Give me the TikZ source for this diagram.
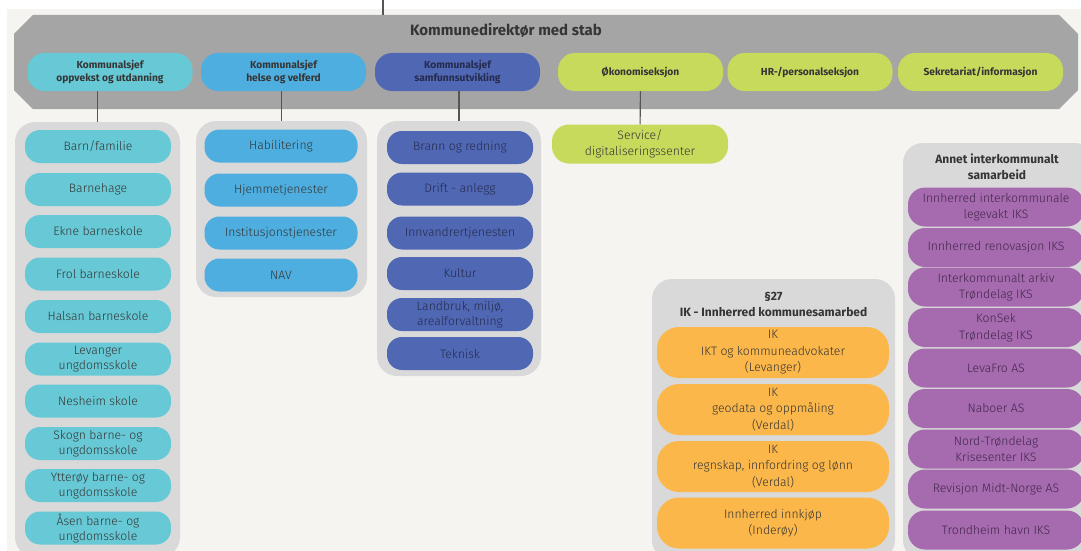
\documentclass[tikz,border=0pt]{standalone}
\usepackage{fontspec}
\setmainfont{Fira Sans}
\newfontfamily\lightfont{Fira Sans Light}
\definecolor{bg}{HTML}{F5F4F0}
\definecolor{bandc}{HTML}{A4A5A4}
\definecolor{cont}{HTML}{D9D9D9}
\definecolor{cyanc}{HTML}{67C9D6}
\definecolor{bluec}{HTML}{4EAEE0}
\definecolor{indc}{HTML}{5067B3}
\definecolor{grnc}{HTML}{C8DA5C}
\definecolor{orgc}{HTML}{FBB74A}
\definecolor{purc}{HTML}{A66AAE}
\definecolor{txt}{HTML}{353535}
\definecolor{indtxt}{HTML}{252B4E}
\definecolor{purtxt}{HTML}{42264D}
\definecolor{lnc}{HTML}{555555}
\begin{document}
\begin{tikzpicture}[x=1pt,y=-1pt,
  every node/.style={inner sep=0pt, align=center, text=txt},
  head/.style={rounded corners=17pt, minimum width=165pt, minimum height=38pt, font=\fontsize{10.2}{12.8}\selectfont\bfseries},
  container/.style={fill=cont, rounded corners=20pt},
  item/.style={rounded corners=15pt, minimum height=33pt, font=\lightfont\fontsize{12.2}{15}\selectfont},
  cyanitem/.style={item, fill=cyanc, minimum width=146pt},
  blueitem/.style={item, fill=bluec, minimum width=153pt},
  inditem/.style={item, fill=indc, minimum width=146pt, text=indtxt},
  orgitem/.style={rounded corners=22pt, fill=orgc, minimum width=232pt, minimum height=51pt, font=\lightfont\fontsize{12.2}{16.5}\selectfont},
  puritem/.style={rounded corners=17pt, fill=purc, minimum width=176pt, minimum height=39pt, font=\lightfont\fontsize{12.2}{16.5}\selectfont, text=purtxt},
  conn/.style={draw=lnc, line width=1.1pt},
  ctitle/.style={font=\fontsize{12}{16.5}\selectfont\bfseries}
]
\useasboundingbox (0,0) rectangle (1081,551);
\clip (0,0) rectangle (1081,551);
\fill[white] (0,0) rectangle (1081,551);
\fill[bg] (7,9) rectangle (1081,551);

% top band
\fill[bandc] (33,15) -- (1059,15) -- (1078,34) -- (1078,90) -- (1059,109) -- (33,109) -- (14,90) -- (14,34) -- cycle;
\coordinate (topend) at (383,0);
\coordinate (bandtop) at (383,15);
\draw[conn] (topend) -- (bandtop);
\node[font=\fontsize{15}{17}\selectfont\bfseries] (title) at (506,30) {Kommunedirektør med stab};

% head nodes
\node[head, fill=cyanc] (k1) at (110,72) {Kommunalsjef\\oppvekst og utdanning};
\node[head, fill=bluec] (k2) at (283.5,72) {Kommunalsjef\\helse og velferd};
\node[head, fill=indc, text=indtxt] (k3) at (457.5,72) {Kommunalsjef\\samfunnsutvikling};
\node[head, fill=grnc] (oko) at (640.5,72) {Økonomiseksjon};
\node[head, fill=grnc] (hr) at (810,72) {HR-/personalseksjon};
\node[head, fill=grnc] (sek) at (980.5,72) {Sekretariat/informasjon};

% containers
\node[container, minimum width=165pt, minimum height=435pt] (c1) at (97.5,339.5) {};
\node[container, minimum width=171pt, minimum height=176pt] (c2) at (281.5,209) {};
\node[container, minimum width=164pt, minimum height=255pt] (c3) at (459,248.5) {};
\node[container, minimum width=243pt, minimum height=281pt] (c27) at (773.5,419.5) {};
\node[container, minimum width=192pt, minimum height=417pt] (cann) at (999,351.5) {};

% connectors
\draw[conn] (k1.south -| c1.north) -- (c1.north);
\draw[conn] (k2.south -| c2.north) -- (c2.north);
\draw[conn] (k3.south -| c3.north) -- (c3.north);

% service
\node[head, fill=grnc, minimum width=176pt, minimum height=39pt, font=\lightfont\fontsize{12.2}{16.5}\selectfont] (serv) at (640,144) {Service/\\digitaliseringssenter};
\draw[conn] (oko) -- (serv);

% column 1
\node[cyanitem] (a1) at (98,146.5) {Barn/familie};
\node[cyanitem] (a2) at (98,189.5) {Barnehage};
\node[cyanitem] (a3) at (98,231.5) {Ekne barneskole};
\node[cyanitem] (a4) at (98,274) {Frol barneskole};
\node[cyanitem] (a5) at (98,316.5) {Halsan barneskole};
\node[cyanitem] (a6) at (98,359) {Levanger\\ungdomsskole};
\node[cyanitem] (a7) at (98,401) {Nesheim skole};
\node[cyanitem] (a8) at (98,443.5) {Skogn barne- og\\ungdomsskole};
\node[cyanitem] (a9) at (98,485.5) {Ytterøy barne- og\\ungdomsskole};
\node[cyanitem] (a10) at (98,528) {Åsen barne- og\\ungdomsskole};

% column 2
\node[blueitem] (b1) at (281,146) {Habilitering};
\node[blueitem] (b2) at (281,190) {Hjemmetjenester};
\node[blueitem] (b3) at (281,233) {Institusjonstjenester};
\node[blueitem] (b4) at (281,275) {NAV};

% column 3
\node[inditem] (d1) at (460,147.5) {Brann og redning};
\node[inditem] (d2) at (460,189) {Drift - anlegg};
\node[inditem] (d3) at (460,233) {Innvandrertjenesten};
\node[inditem] (d4) at (460,273.5) {Kultur};
\node[inditem] (d5) at (460,314.5) {Landbruk, miljø,\\arealforvaltning};
\node[inditem] (d6) at (460,353.5) {Teknisk};

% §27
\node[ctitle] (t27) at (773.5,304.5) {§27\\IK - Innherred kommunesamarbed};
\node[orgitem] (o1) at (773,352.5) {IK\\IKT og kommuneadvokater\\(Levanger)};
\node[orgitem] (o2) at (773,409.5) {IK\\geodata og oppmåling\\(Verdal)};
\node[orgitem] (o3) at (773,466.5) {IK\\regnskap, innfordring og lønn\\(Verdal)};
\node[orgitem] (o4) at (773,523) {Innherred innkjøp\\(Inderøy)};

% annet
\node[ctitle] (tann) at (997,166.5) {Annet interkommunalt\\samarbeid};
\node[puritem] (p1) at (996,207) {Innherred interkommunale\\legevakt IKS};
\node[puritem] (p2) at (996,247.5) {Innherred renovasjon IKS};
\node[puritem] (p3) at (996,287) {Interkommunalt arkiv\\Trøndelag IKS};
\node[puritem] (p4) at (996,327.5) {KonSek\\Trøndelag IKS};
\node[puritem] (p5) at (996,368) {LevaFro AS};
\node[puritem] (p6) at (996,408.5) {Naboer AS};
\node[puritem] (p7) at (996,449) {Nord-Trøndelag\\Krisesenter IKS};
\node[puritem] (p8) at (996,489) {Revisjon Midt-Norge AS};
\node[puritem] (p9) at (996,530) {Trondheim havn IKS};
\end{tikzpicture}
\end{document}
